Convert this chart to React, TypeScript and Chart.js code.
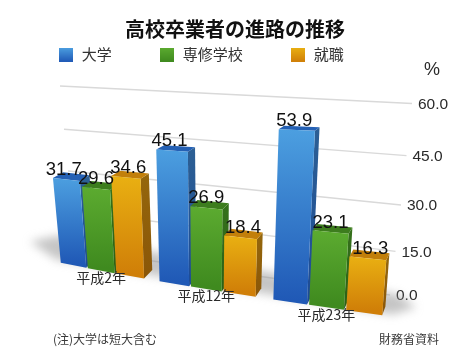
import React, { useEffect, useRef } from "react";
import { Chart, registerables } from "chart.js";

Chart.register(...registerables);

const TITLE = "高校卒業者の進路の推移";
const categories = ["平成2年", "平成12年", "平成23年"];
const universityValues = [31.7, 45.1, 53.9];
const vocationalValues = [29.6, 26.9, 23.1];
const employmentValues = [34.6, 18.4, 16.3];
const seriesNames = ["大学", "専修学校", "就職"];
const UNIT = "%";
const NOTE = "(注)大学は短大含む";
const SOURCE = "財務省資料";

const JP = '"Noto Sans CJK JP", sans-serif';
const LATIN = '"Liberation Sans", Arial, sans-serif';
const INK = "#2a2a2a";

const palette = [
  { light: "#4c9fe0", dark: "#2059b6", top: "#2460b4", side0: "#2c5f94", side1: "#1d4b96" },
  { light: "#5cab30", dark: "#3f8a1f", top: "#3d7d1e", side0: "#35701b", side1: "#2b6016" },
  { light: "#e9b012", dark: "#d07f08", top: "#c27f0a", side0: "#94660c", side1: "#8a5608" },
];

// Perspective camera: u is 0..1 across the category scale, t is 0..1 up the value scale.
const frontX = (u: number, t: number) => 54.1 + 270.5 * u + 67.5 * u * u + (-15.6 + 31.3 * u) * t;
const frontY = (u: number, t: number) => 261.5 + 55 * u - 60 * (2.66 + 0.72 * u) * t;
const depthX = (u: number) => 10.5 - 7.5 * u;
const depthY = (t: number) => -(8.5 - 5.5 * t);
const wallLeft = (t: number) => ({ x: 76 - 16 * t, y: 250 - 152 * t - 12 * t * t });
const wallRight = (t: number) => ({ x: 390 + 22 * t, y: 295 - 168.5 * t - 23 * t * t });

type Pt = [number, number];
function poly(ctx: CanvasRenderingContext2D, pts: Pt[], fill: string | CanvasGradient) {
  ctx.beginPath();
  pts.forEach((p, i) => (i ? ctx.lineTo(p[0], p[1]) : ctx.moveTo(p[0], p[1])));
  ctx.closePath();
  ctx.fillStyle = fill;
  ctx.fill();
}

function swatch(c: (typeof palette)[number]) {
  const s = document.createElement("canvas");
  s.width = 14;
  s.height = 14;
  const x = s.getContext("2d")!;
  const g = x.createLinearGradient(0, 0, 0, 14);
  g.addColorStop(0, c.light);
  g.addColorStop(1, c.dark);
  x.fillStyle = g;
  x.fillRect(0, 0, 14, 14);
  return s;
}

const unitOf = (chart: any, px: number) => (px - chart.chartArea.left) / chart.chartArea.width;

function drawSeries(chart: any, i: number) {
  const { ctx, scales } = chart;
  const c = palette[i];
  const meta = chart.getDatasetMeta(i);
  const range = scales.y.max - scales.y.min;
  meta.data.forEach((el: any, k: number) => {
    const t = (chart.data.datasets[i].data[k] as number) / range;
    const ul = unitOf(chart, el.x - el.width / 2);
    const ur = unitOf(chart, el.x + el.width / 2);
    const fl0: Pt = [frontX(ul, 0), frontY(ul, 0)];
    const fr0: Pt = [frontX(ur, 0), frontY(ur, 0)];
    const flt: Pt = [frontX(ul, t), frontY(ul, t)];
    const frt: Pt = [frontX(ur, t), frontY(ur, t)];
    const back = (p: Pt, u: number, tt: number): Pt => [p[0] + depthX(u), p[1] + depthY(tt)];
    const gs = ctx.createLinearGradient(0, frt[1], 0, fr0[1]);
    gs.addColorStop(0, c.side0);
    gs.addColorStop(1, c.side1);
    poly(ctx, [frt, back(frt, ur, t), back(fr0, ur, 0), fr0], gs);
    poly(ctx, [flt, back(flt, ul, t), back(frt, ur, t), frt], c.top);
    const g = ctx.createLinearGradient(0, flt[1], 0, fl0[1]);
    g.addColorStop(0, c.light);
    g.addColorStop(1, c.dark);
    poly(ctx, [flt, frt, fr0, fl0], g);
  });
}

const perspective = {
  id: "perspective",
  afterLayout(chart: any) {
    chart.legend.top = 0;
  },
  beforeDatasetsDraw(chart: any) {
    const { ctx, scales } = chart;
    const y = scales.y;
    const range = y.max - y.min;
    // back wall grid
    ctx.save();
    ctx.strokeStyle = "#d9d9d9";
    ctx.lineWidth = 1.3;
    y.ticks.forEach((tick: any) => {
      const t = tick.value / range;
      const a = wallLeft(t);
      const b = wallRight(t);
      ctx.beginPath();
      ctx.moveTo(a.x, a.y);
      ctx.lineTo(b.x, b.y);
      ctx.stroke();
      ctx.fillStyle = INK;
      ctx.font = `15.5px ${LATIN}`;
      ctx.textAlign = "left";
      ctx.textBaseline = "middle";
      ctx.fillText(tick.value.toFixed(1), b.x + 6, b.y + 1);
    });
    // floor shadow
    ctx.filter = "blur(5px)";
    const s: Pt[] = [
      [frontX(0, 0) - 24, frontY(0, 0) - 20],
      [frontX(0, 0) + 4, frontY(0, 0) - 26],
      [frontX(1, 0) + 6, frontY(1, 0) - 22],
      [frontX(1, 0) + 24, frontY(1, 0) - 9],
      [frontX(1, 0), frontY(1, 0) - 2],
      [frontX(0, 0) + 2, frontY(0, 0) - 2],
    ];
    poly(ctx, s, "rgba(150,150,150,0.55)");
    ctx.filter = "none";
    // bars, first series first so that each overlaps the side of the one before it
    chart.data.datasets.forEach((_: any, i: number) => drawSeries(chart, i));
    ctx.restore();
  },
  beforeDatasetDraw() {
    return false;
  },
  afterDatasetsDraw(chart: any) {
    const { ctx, scales } = chart;
    const range = scales.y.max - scales.y.min;
    ctx.save();
    // data labels
    ctx.fillStyle = "#111";
    ctx.font = `18.5px ${LATIN}`;
    ctx.textAlign = "center";
    ctx.textBaseline = "alphabetic";
    chart.data.datasets.forEach((ds: any, i: number) => {
      chart.getDatasetMeta(i).data.forEach((el: any, k: number) => {
        const t = ds.data[k] / range;
        const u = unitOf(chart, el.x);
        ctx.fillText(ds.data[k].toFixed(1), frontX(u, t) + (i - 1) * 2.5, frontY(u, t) - 4.5);
      });
    });
    // category labels
    ctx.fillStyle = INK;
    ctx.font = `14px ${JP}`;
    ctx.textBaseline = "middle";
    chart.data.labels.forEach((lab: string, k: number) => {
      const u = unitOf(chart, scales.x.getPixelForValue(k));
      ctx.fillText(lab, frontX(u, 0), frontY(u, 0) + 7);
    });
    // unit and notes
    const top = wallRight(1);
    ctx.font = `18px ${LATIN}`;
    ctx.fillText(UNIT, top.x + 20, top.y - 33);
    ctx.font = `12px ${JP}`;
    ctx.fillStyle = "#3a3a3a";
    ctx.textAlign = "left";
    ctx.fillText(NOTE, 53, 339);
    ctx.fillText(SOURCE, 379, 339);
    ctx.restore();
  },
};

export default function App() {
  const ref = useRef<HTMLCanvasElement | null>(null);
  useEffect(() => {
    document.body.style.margin = "0";
    document.body.style.background = "#fff";
    const series = [universityValues, vocationalValues, employmentValues];
    const swatches = palette.map(swatch);
    const chart = new Chart(ref.current!, {
      type: "bar",
      data: {
        labels: categories,
        datasets: series.map((data, i) => ({
          label: seriesNames[i],
          data,
          backgroundColor: palette[i].light,
          categoryPercentage: 0.87,
          barPercentage: 0.94,
        })),
      },
      options: {
        responsive: false,
        animation: false,
        layout: { padding: { left: 10.75, right: 10.75 } },
        scales: {
          x: { display: false, type: "category" },
          y: { display: false, min: 0, max: 60, ticks: { stepSize: 15 } },
        },
        plugins: {
          tooltip: { enabled: false },
          title: {
            display: true,
            text: TITLE,
            color: "#111",
            font: { family: JP, size: 20, weight: "bold" },
            padding: { top: 17, bottom: 0 },
          },
          legend: {
            display: true,
            position: "top",
            align: "start",
            labels: {
              color: "#333",
              font: { family: JP, size: 15 },
              usePointStyle: true,
              pointStyleWidth: 16.5,
              boxHeight: 14,
              padding: 47,
              generateLabels: () =>
                seriesNames.map((text, i) => ({
                  text,
                  pointStyle: swatches[i],
                  datasetIndex: i,
                  fontColor: "#333",
                  lineWidth: 0,
                })),
            },
          },
        },
      },
      plugins: [perspective],
    } as any);
    return () => chart.destroy();
  }, []);
  return <canvas ref={ref} width={470} height={353} style={{ display: "block" }} />;
}
